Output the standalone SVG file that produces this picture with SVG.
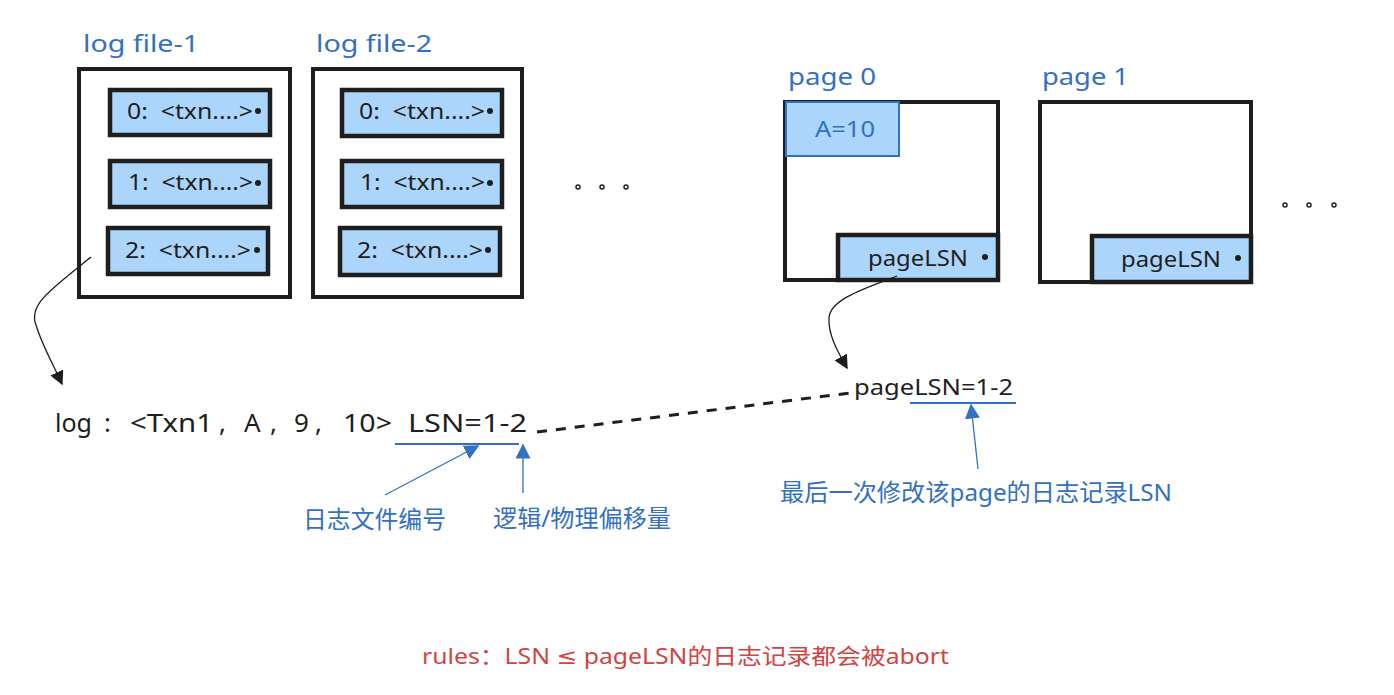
<svg xmlns="http://www.w3.org/2000/svg" width="1394" height="695" viewBox="0 0 1394 695">
<style>
text{font-family:"Noto Sans","Noto Sans CJK SC",sans-serif}
.outer{fill:#fff;stroke:#1e1e1e;stroke-width:4}
.entry{fill:#acd5fb;stroke:#1e1e1e;stroke-width:4.5}
.et{font-size:21px;fill:#1e1e1e}
.blue{fill:#3370c2}
.lbl{font-size:24px;fill:#3370c2}
.dot{fill:#1e1e1e}
.sdot{fill:none;stroke:#1e1e1e;stroke-width:1.5}
.conn{fill:none;stroke:#1e1e1e;stroke-width:1.3}
.bconn{fill:none;stroke:#3370c2;stroke-width:1.3}
.uline{stroke:#3370c2;stroke-width:2}
.lg{font-size:26px;fill:#1e1e1e}
</style>
<defs>
<marker id="ab" viewBox="0 0 10 10" refX="9" refY="5" markerWidth="14" markerHeight="14" markerUnits="userSpaceOnUse" orient="auto"><path d="M0,0 L10,5 L0,10 Z" fill="#1e1e1e"/></marker>
<marker id="abl" viewBox="0 0 10 10" refX="9" refY="5" markerWidth="15" markerHeight="15" markerUnits="userSpaceOnUse" orient="auto"><path d="M0,0 L10,5 L0,10 Z" fill="#3370c2"/></marker>
</defs>

<g id="logfile1">
<text x="83" y="52" class="lbl" textLength="116" lengthAdjust="spacingAndGlyphs">log file-1</text>
<rect x="79" y="69" width="211" height="228" class="outer"/>
<rect x="110" y="90" width="160" height="45" class="entry"/>
<text x="127" y="119" class="et" textLength="126" lengthAdjust="spacingAndGlyphs" xml:space="preserve">0:  &lt;txn....&gt;</text>
<circle cx="258" cy="111" r="3" class="dot"/>
<rect x="110" y="161" width="160" height="46" class="entry"/>
<text x="128" y="190" class="et" textLength="125" lengthAdjust="spacingAndGlyphs" xml:space="preserve">1:  &lt;txn....&gt;</text>
<circle cx="258" cy="183" r="3" class="dot"/>
<rect x="108" y="228" width="160" height="46" class="entry"/>
<text x="125" y="258" class="et" textLength="126" lengthAdjust="spacingAndGlyphs" xml:space="preserve">2:  &lt;txn....&gt;</text>
<circle cx="257" cy="250" r="3" class="dot"/>
</g>

<g id="logfile2">
<text x="316" y="52" class="lbl" textLength="116" lengthAdjust="spacingAndGlyphs">log file-2</text>
<rect x="313" y="69" width="209" height="228" class="outer"/>
<rect x="342" y="90" width="160" height="46" class="entry"/>
<text x="359" y="119" class="et" textLength="126" lengthAdjust="spacingAndGlyphs" xml:space="preserve">0:  &lt;txn....&gt;</text>
<circle cx="490" cy="111" r="3" class="dot"/>
<rect x="342" y="161" width="160" height="46" class="entry"/>
<text x="360" y="190" class="et" textLength="125" lengthAdjust="spacingAndGlyphs" xml:space="preserve">1:  &lt;txn....&gt;</text>
<circle cx="490" cy="183" r="3" class="dot"/>
<rect x="340" y="228" width="160" height="47" class="entry"/>
<text x="357" y="258" class="et" textLength="126" lengthAdjust="spacingAndGlyphs" xml:space="preserve">2:  &lt;txn....&gt;</text>
<circle cx="488" cy="250" r="3" class="dot"/>
</g>

<g id="dots1">
<circle cx="578" cy="187" r="2" class="sdot"/>
<circle cx="602" cy="187" r="2" class="sdot"/>
<circle cx="626" cy="187" r="2" class="sdot"/>
</g>

<g id="page0">
<text x="788" y="85" class="lbl" textLength="88" lengthAdjust="spacingAndGlyphs">page 0</text>
<rect x="785" y="102" width="213" height="178" class="outer"/>
<rect x="786" y="102" width="113" height="54" fill="#acd5fb" stroke="#3370c2" stroke-width="2"/>
<text x="815" y="137" class="blue" font-size="21" textLength="60" lengthAdjust="spacingAndGlyphs">A=10</text>
<rect x="838" y="235" width="160" height="45" class="entry"/>
<text x="868" y="266" class="et" textLength="100" lengthAdjust="spacingAndGlyphs">pageLSN</text>
<circle cx="985" cy="257" r="3" class="dot"/>
</g>

<g id="page1">
<text x="1042" y="85" class="lbl" textLength="87" lengthAdjust="spacingAndGlyphs">page 1</text>
<rect x="1040" y="102" width="211" height="180" class="outer"/>
<rect x="1092" y="236" width="159" height="46" class="entry"/>
<text x="1121" y="267" class="et" textLength="100" lengthAdjust="spacingAndGlyphs">pageLSN</text>
<circle cx="1238" cy="258" r="3" class="dot"/>
</g>

<g id="dots2">
<circle cx="1285" cy="205" r="2" class="sdot"/>
<circle cx="1309" cy="205" r="2" class="sdot"/>
<circle cx="1334" cy="205" r="2" class="sdot"/>
</g>

<g id="logline">
<text x="55" y="432" class="lg" textLength="37" lengthAdjust="spacingAndGlyphs">log</text>
<text x="104" y="432" class="lg">:</text>
<text x="130" y="432" class="lg" textLength="83" lengthAdjust="spacingAndGlyphs">&lt;Txn1</text>
<text x="219" y="432" class="lg">,</text>
<text x="244" y="432" class="lg">A</text>
<text x="270" y="432" class="lg">,</text>
<text x="294" y="432" class="lg">9</text>
<text x="315" y="432" class="lg">,</text>
<text x="343" y="432" class="lg" textLength="49" lengthAdjust="spacingAndGlyphs">10&gt;</text>
<text x="408" y="432" class="lg" textLength="119" lengthAdjust="spacingAndGlyphs">LSN=1-2</text>
</g>

<g id="pagelsn">
<text x="854" y="395" font-size="22" fill="#1e1e1e" textLength="159" lengthAdjust="spacingAndGlyphs">pageLSN=1-2</text>
</g>

<g id="label-fileno"><text x="303" y="528" class="lbl" font-size="22" textLength="143" lengthAdjust="spacingAndGlyphs">日志文件编号</text></g>
<g id="label-offset"><text x="493" y="527" class="lbl" font-size="22" textLength="178" lengthAdjust="spacingAndGlyphs">逻辑/物理偏移量</text></g>
<g id="label-last"><text x="780" y="501" class="lbl" font-size="22" textLength="392" lengthAdjust="spacingAndGlyphs">最后一次修改该page的日志记录LSN</text></g>
<g id="rules"><text x="422" y="664" font-size="22" fill="#d04444" textLength="527" lengthAdjust="spacingAndGlyphs">rules：LSN <tspan font-family="DejaVu Sans">≤</tspan> pageLSN的日志记录都会被abort</text></g>

<g id="connectors">
<path d="M91,257 C50,290 28,305 36,325 C42,345 52,362 62,384" class="conn" marker-end="url(#ab)"/>
<path d="M897,276 C860,290 830,300 829,318 C828,335 838,352 847,368" class="conn" marker-end="url(#ab)"/>
<path d="M537,432 L850,393" stroke="#1e1e1e" stroke-width="3" stroke-dasharray="10 9" fill="none"/>
<line x1="395" y1="444" x2="519" y2="444" class="uline"/>
<line x1="910" y1="403" x2="1016" y2="403" class="uline"/>
<path d="M385,495 L478,446" class="bconn" marker-end="url(#abl)"/>
<path d="M523,493 L523,445" class="bconn" marker-end="url(#abl)"/>
<path d="M978,469 L971,405" class="bconn" marker-end="url(#abl)"/>
</g>
</svg>
